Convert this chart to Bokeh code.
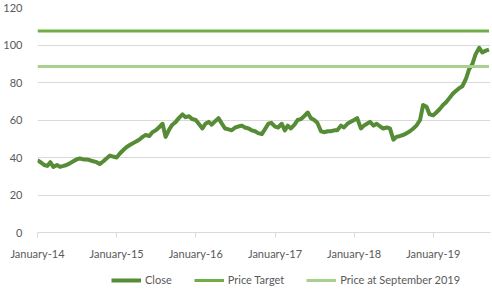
import pandas as pd
from bokeh.plotting import figure
from bokeh.layouts import column
from bokeh.models import (FixedTicker, DatetimeTickFormatter, Legend,
                          LegendItem, Range1d)
from bokeh.embed import file_html
from bokeh.resources import INLINE

# ---- data ----
dates = pd.date_range("2014-01-01", "2019-09-15", freq="SMS")
close = [
    # 2014
    38.5, 37.5, 36.0, 35.5, 37.5, 35.0, 36.0, 35.0, 35.5, 36.0, 37.0, 38.0,
    39.0, 39.5, 39.0, 39.0, 38.5, 38.0, 37.5, 36.5, 38.0, 39.5, 41.0, 40.5,
    # 2015
    40.0, 42.0, 44.0, 45.5, 46.5, 47.5, 48.5, 49.5, 51.0, 52.0, 51.5, 53.5,
    54.5, 56.0, 58.0, 51.0, 55.0, 57.5, 59.0, 61.0, 63.0, 61.5, 62.0, 60.5,
    # 2016
    60.0, 58.0, 55.5, 58.0, 59.0, 57.5, 59.5, 61.0, 58.0, 55.5, 55.0, 54.5,
    56.0, 56.5, 57.0, 56.0, 55.5, 54.5, 54.0, 53.0, 52.5, 55.0, 58.0, 58.5,
    # 2017
    56.5, 56.0, 58.0, 54.5, 57.0, 55.5, 57.5, 60.0, 60.5, 62.0, 64.0, 61.0,
    60.0, 58.5, 54.0, 53.5, 54.0, 54.0, 54.5, 54.5, 57.0, 56.0, 58.0, 59.0,
    # 2018
    60.0, 61.0, 55.5, 57.0, 58.0, 59.0, 57.0, 58.0, 56.5, 55.5, 56.0, 55.5,
    49.5, 51.0, 51.5, 52.0, 53.0, 54.0, 55.5, 57.0, 60.0, 68.0, 67.0, 63.0,
    # 2019
    62.5, 64.0, 66.0, 68.0, 69.5, 71.5, 74.0, 75.5, 77.0, 78.0, 82.0, 87.0,
    90.0, 95.0, 98.5, 96.0, 97.0, 97.5,
]
price_target = 107.5
price_sep_2019 = 88.5
tick_years = [2014, 2015, 2016, 2017, 2018, 2019]
y_ticks = [0, 20, 40, 60, 80, 100, 120]
series_names = ["Close", "Price Target", "Price at September 2019"]

assert len(close) == len(dates)

tick_ms = [pd.Timestamp(f"{y}-01-01").value // 10**6 for y in tick_years]

grey = "#595959"
font = "Lato"
c_close, c_target, c_sep = "#568c35", "#70ad47", "#a9d18e"

p = figure(width=492, height=262,
           x_axis_type="datetime",
           output_backend="svg", toolbar_location=None,
           x_range=(pd.Timestamp("2014-01-01"), pd.Timestamp("2019-09-22")),
           y_range=(0, 120),
           min_border_left=35, min_border_right=2, min_border_top=7,
           min_border_bottom=30)
p.outline_line_color = None

# axes
p.xaxis.ticker = FixedTicker(ticks=tick_ms)
fmt = "%B-%y"
p.xaxis.formatter = DatetimeTickFormatter(years=fmt, months=fmt, days=fmt,
                                          hours=fmt, minutes=fmt, seconds=fmt,
                                          milliseconds=fmt, microseconds=fmt)
p.xaxis.axis_line_color = "#d9d9d9"
p.xaxis.major_tick_line_color = "#d9d9d9"
p.xaxis.major_tick_out = 5
p.xaxis.major_tick_in = 0
p.xaxis.minor_tick_line_color = None
p.xaxis.major_label_text_font = font
p.xaxis.major_label_text_font_size = "11px"
p.xaxis.major_label_text_color = grey
p.xaxis.major_label_standoff = 9

p.yaxis.ticker = FixedTicker(ticks=y_ticks)
p.yaxis.axis_line_color = None
p.yaxis.major_tick_line_color = None
p.yaxis.minor_tick_line_color = None
p.yaxis.major_label_text_font = font
p.yaxis.major_label_text_font_size = "11px"
p.yaxis.major_label_text_color = grey
p.yaxis.major_label_standoff = 9

p.xgrid.grid_line_color = None
p.ygrid.grid_line_color = "#d9d9d9"
p.ygrid.grid_line_width = 1

p.line(dates, close, line_color=c_close, line_width=4, line_join="round")
p.line(dates, [price_target] * len(dates), line_color=c_target, line_width=3)
p.line(dates, [price_sep_2019] * len(dates), line_color=c_sep, line_width=3)

# ---- legend strip below the chart (same series, shown only as legend) ----
lg = figure(width=492, height=39, x_axis_type="datetime",
            output_backend="svg", toolbar_location=None,
            x_range=p.x_range, y_range=Range1d(-2, -1),
            x_axis_location=None, y_axis_location=None,
            min_border=0)
lg.outline_line_color = None
lg.xgrid.grid_line_color = None
lg.ygrid.grid_line_color = None
l_close = lg.line(dates, close, line_color=c_close, line_width=4)
l_target = lg.line(dates, [price_target] * len(dates), line_color=c_target,
                   line_width=3)
l_sep = lg.line(dates, [price_sep_2019] * len(dates), line_color=c_sep,
                line_width=3)

legend = Legend(items=[
    LegendItem(label=series_names[0], renderers=[l_close]),
    LegendItem(label=series_names[1], renderers=[l_target]),
    LegendItem(label=series_names[2], renderers=[l_sep]),
], orientation="horizontal", location=(74, 15))
legend.border_line_color = None
legend.background_fill_alpha = 0
legend.label_text_font = font
legend.label_text_font_size = "11px"
legend.label_text_color = grey
legend.glyph_width = 30
legend.glyph_height = 12
legend.spacing = 22
legend.label_standoff = 4
legend.margin = 0
legend.padding = 2
lg.add_layout(legend, "center")

layout = column(p, lg, spacing=0)
open("out.html", "w").write(file_html(layout, INLINE))
